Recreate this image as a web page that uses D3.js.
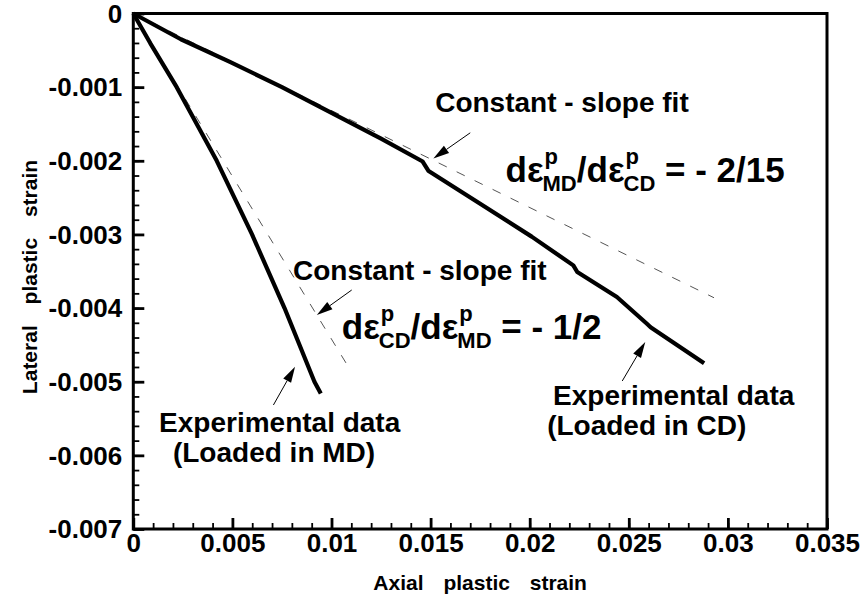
<!DOCTYPE html>
<html>
<head>
<meta charset="utf-8">
<script src="https://cdn.jsdelivr.net/npm/d3@7"></script>
<style>
  body { margin: 0; background: #fff; }
  text { font-family: "Liberation Sans", Arial, Helvetica, sans-serif; font-weight: bold; fill: #000; }
</style>
</head>
<body>
<div id="chart"></div>
<script>
// tick values and labels
const xMajorTicks = [0, 0.005, 0.01, 0.015, 0.02, 0.025, 0.03, 0.035];
const xTickLabels = ['0', '0.005', '0.01', '0.015', '0.02', '0.025', '0.03', '0.035'];
const yMajorTicks = [0, -0.001, -0.002, -0.003, -0.004, -0.005, -0.006, -0.007];
const yTickLabels = ['0', '-0.001', '-0.002', '-0.003', '-0.004', '-0.005', '-0.006', '-0.007'];

// experimental data, loaded in MD
const mdAxial = [0, 0.00086, 0.00219, 0.00421, 0.00599, 0.00763, 0.00914, 0.00946];
const mdLateral = [0, -0.000405, -0.001, -0.002, -0.003, -0.004, -0.005, -0.00516];

// experimental data, loaded in CD
const cdAxial = [0, 0.0024, 0.0049, 0.0075, 0.0100, 0.0125, 0.0146, 0.0149, 0.0176, 0.0201, 0.0222, 0.0224, 0.0244, 0.0259, 0.0261, 0.0288];
const cdLateral = [0, -0.00035, -0.00066, -0.00100, -0.00135, -0.00170, -0.00201, -0.00214, -0.0026, -0.00303, -0.00342, -0.00351, -0.00385, -0.00421, -0.00426, -0.00475];

// constant-slope fits
const mdFitAxial = [0, 0.0109];
const mdFitLateral = [0, -0.00482];
const cdFitAxial = [0, 0.0293];
const cdFitLateral = [0, -0.00386];

const width = 861, height = 596;
const plot = { left: 133.3, right: 827, top: 13.5, bottom: 529 };

const svg = d3.select('#chart').append('svg')
    .attr('width', width)
    .attr('height', height);

const x = d3.scaleLinear().domain([0, 0.035]).range([plot.left, plot.right]);
const y = d3.scaleLinear().domain([0, -0.007]).range([plot.top, plot.bottom]);

// minor ticks
svg.append('g')
    .attr('transform', 'translate(0,' + plot.bottom + ')')
    .call(d3.axisBottom(x).tickValues(d3.range(0, 36).map(i => i * 0.001)).tickSize(-6).tickFormat(''))
    .call(g => g.select('.domain').remove())
    .selectAll('line').attr('stroke-width', 1.8);
svg.append('g')
    .attr('transform', 'translate(' + plot.left + ',0)')
    .call(d3.axisLeft(y).tickValues(d3.range(0, 36).map(i => -i * 0.0002)).tickSize(-6).tickFormat(''))
    .call(g => g.select('.domain').remove())
    .selectAll('line').attr('stroke-width', 1.8);

// major ticks + labels
const xAxis = svg.append('g')
    .attr('transform', 'translate(0,' + plot.bottom + ')')
    .call(d3.axisBottom(x).tickValues(xMajorTicks).tickSize(-11).tickPadding(5)
        .tickFormat((d, i) => xTickLabels[i]));
xAxis.select('.domain').remove();
xAxis.selectAll('line').attr('stroke-width', 2.8);
xAxis.selectAll('text').style('font-size', '26px');

const yAxis = svg.append('g')
    .attr('transform', 'translate(' + plot.left + ',0)')
    .call(d3.axisLeft(y).tickValues(yMajorTicks).tickSize(-11).tickPadding(11)
        .tickFormat((d, i) => yTickLabels[i]));
yAxis.select('.domain').remove();
yAxis.selectAll('line').attr('stroke-width', 2.8);
yAxis.selectAll('text').style('font-size', '26px').attr('dy', '0.34em');

// frame
svg.append('rect')
    .attr('x', plot.left).attr('y', plot.top)
    .attr('width', plot.right - plot.left).attr('height', plot.bottom - plot.top)
    .attr('fill', 'none').attr('stroke', '#000').attr('stroke-width', 3);

// axis titles
svg.append('text')
    .attr('x', (plot.left + plot.right) / 2).attr('y', 590)
    .attr('text-anchor', 'middle')
    .style('font-size', '21px').style('word-spacing', '14px')
    .text('Axial plastic strain');
svg.append('text')
    .attr('transform', 'translate(37,' + 277 + ') rotate(-90)')
    .attr('text-anchor', 'middle')
    .style('font-size', '21px').style('word-spacing', '15px')
    .text('Lateral plastic strain');

const line = d3.line().x(d => x(d[0])).y(d => y(d[1]));

// fits
[[cdFitAxial, cdFitLateral], [mdFitAxial, mdFitLateral]].forEach(f => {
    svg.append('path')
        .attr('d', line(d3.zip(f[0], f[1])))
        .attr('fill', 'none')
        .attr('stroke', '#555')
        .attr('stroke-width', 1)
        .attr('stroke-dasharray', '9,11');
});

// data curves
[[cdAxial, cdLateral], [mdAxial, mdLateral]].forEach(c => {
    svg.append('path')
        .attr('d', line(d3.zip(c[0], c[1])))
        .attr('fill', 'none')
        .attr('stroke', '#000')
        .attr('stroke-width', 4.2)
        .attr('stroke-linejoin', 'round')
        .attr('stroke-linecap', 'butt');
});

// arrows: [fromX, fromY, tipX, tipY] in data units
const arrows = [
    [0.0170, -0.00162, 0.01514, -0.00197],
    [0.01102, -0.003755, 0.00926, -0.004094],
    [0.00707, -0.005316, 0.00816, -0.004796],
    [0.02467, -0.004990, 0.02583, -0.00446]
];
arrows.forEach(a => {
    const x0 = x(a[0]), y0 = y(a[1]), x1 = x(a[2]), y1 = y(a[3]);
    const ang = Math.atan2(y1 - y0, x1 - x0);
    const len = 16, half = 4.5;
    const bx = x1 - len * Math.cos(ang), by = y1 - len * Math.sin(ang);
    svg.append('line')
        .attr('x1', x0).attr('y1', y0).attr('x2', bx).attr('y2', by)
        .attr('stroke', '#000').attr('stroke-width', 1);
    svg.append('path')
        .attr('d', 'M' + x1 + ',' + y1 +
            'L' + (bx + half * Math.sin(ang)) + ',' + (by - half * Math.cos(ang)) +
            'L' + (bx - half * Math.sin(ang)) + ',' + (by + half * Math.cos(ang)) + 'Z')
        .attr('fill', '#000');
});

// plain labels: [text, x, y] in data units
const labels = [
    ['Constant - slope fit', 0.01523, -0.001338],
    ['Constant - slope fit', 0.00806, -0.003619],
    ['Experimental data', 0.00130, -0.005683],
    ['(Loaded in MD)', 0.00200, -0.006090],
    ['Experimental data', 0.02118, -0.005316],
    ['(Loaded in CD)', 0.02088, -0.005724]
];
labels.forEach(l => {
    svg.append('text')
        .attr('x', x(l[1])).attr('y', y(l[2]))
        .style('font-size', '28px')
        .text(l[0]);
});

// slope equations: d eps (p over sub) / d eps (p over sub) = rhs
function drawRatio(px, py, subA, subB, rhs) {
    const main = 35, small = 22;
    let cx = px;
    function put(str, size, dx, dy) {
        const t = svg.append('text')
            .attr('x', cx + dx).attr('y', py + dy)
            .style('font-size', size + 'px')
            .style('white-space', 'pre')
            .text(str);
        return t.node().getComputedTextLength();
    }
    function dEps(sub) {
        cx += put('d', main, 0, 0);
        cx += put('\u03b5', main, 0, 0);
        const w1 = put('p', small, 1, -18);
        const w2 = put(sub, small, -1, 9);
        cx += Math.max(w1 + 1, w2 - 1);
    }
    dEps(subA);
    cx += put('/', main, 0, 0);
    dEps(subB);
    put(' = - ' + rhs, main, 0, 0);
}

const equations = [
    [0.01878, -0.002292, 'MD', 'CD', '2/15'],
    [0.01052, -0.004420, 'CD', 'MD', '1/2']
];
equations.forEach(e => drawRatio(x(e[0]), y(e[1]), e[2], e[3], e[4]));
</script>
</body>
</html>
